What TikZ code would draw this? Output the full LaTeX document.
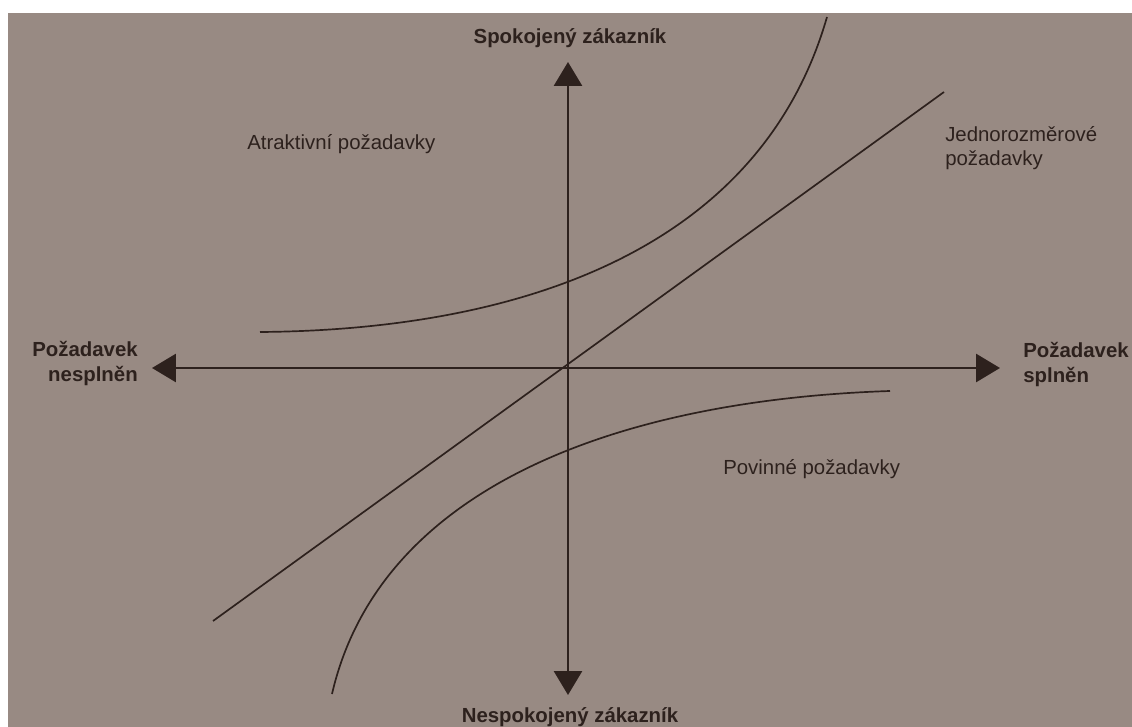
\documentclass[tikz,border=0pt]{standalone}
\usepackage{fontspec}
\setmainfont{Liberation Sans}
\usetikzlibrary{arrows.meta}

\definecolor{paper}{RGB}{152,138,131}
\definecolor{ink}{RGB}{45,33,29}

\begin{document}
\begin{tikzpicture}[x=0.025cm,y=-0.025cm,
  axis/.style={line width=1.5pt,draw=ink,
    {Triangle[length=17pt,width=20pt]}-{Triangle[length=17pt,width=20pt]}},
  curve/.style={line width=1.2pt,draw=ink},
  zonetext/.style={text=ink,inner sep=0pt,font=\fontsize{14.5}{17.5}\selectfont},
  axistext/.style={zonetext,font=\fontsize{14.5}{17.5}\selectfont\bfseries}]

% Page and paper
\useasboundingbox (0,0) rectangle (1132,727);
\fill[white] (0,0) rectangle (1132,727);
\fill[paper] (8,13) rectangle (1132,727);

% Axes
\coordinate (left) at (152,368);
\coordinate (right) at (1000,368);
\coordinate (top) at (568,62);
\coordinate (bottom) at (568,695);
\draw[axis] (left) -- (right);
\draw[axis] (bottom) -- (top);

% Axis labels
\node[axistext,anchor=base] (satisfied) at (570,44) {Spokojený zákazník};
\node[axistext,anchor=base] (dissatisfied) at (570,722) {Nespokojený zákazník};
\node[axistext,anchor=north east,align=right] (notmet) at (138,341) {Požadavek\\nesplněn};
\node[axistext,anchor=north west,align=left] (met) at (1023,342) {Požadavek\\splněn};

% One-dimensional requirements
\coordinate (lowend) at (213,621);
\coordinate (highend) at (944,92);
\draw[curve] (lowend) -- (highend);
\node[zonetext,anchor=north west,align=left] (onedim) at (945,126) {Jednorozměrové\\požadavky};

% Attractive requirements
\coordinate (attstart) at (260,332);
\coordinate (attend) at (827,17);
\draw[curve] (attstart) .. controls (520,330) and (760,250) .. (attend);
\node[zonetext,anchor=base west] (attractive) at (247,150) {Atraktivní požadavky};

% Must-be requirements
\coordinate (muststart) at (332,694);
\coordinate (mustend) at (890,391);
\draw[curve] (muststart) .. controls (380,486) and (620,400) .. (mustend);
\node[zonetext,anchor=base west] (mustbe) at (723,475) {Povinné požadavky};

\end{tikzpicture}
\end{document}
